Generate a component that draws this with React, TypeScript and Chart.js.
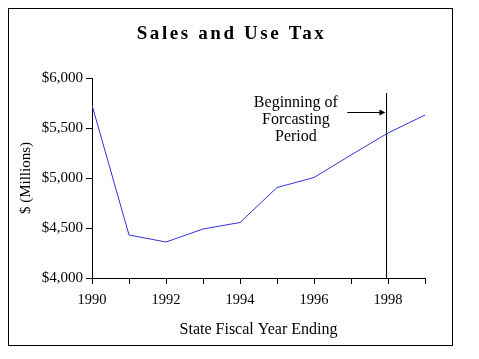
import React, { useEffect, useRef } from "react";
import { Chart, registerables } from "chart.js";

Chart.register(...registerables);

const years = [1990, 1991, 1992, 1993, 1994, 1995, 1996, 1997, 1998, 1999];
const salesTax = [5730, 4430, 4360, 4490, 4555, 4905, 5005, 5230, 5450, 5630];
const forecastStartX = [1997.96, 1997.96];
const forecastStartY = [5850, 4000];
const noteLines = ["Beginning of", "Forcasting", "Period"];
const titleText = "Sales and Use Tax";
const yTickValues = [4000, 4500, 5000, 5500, 6000];

const SERIF = "'Liberation Serif', 'Times New Roman', serif";

const decorPlugin = {
  id: "decor",
  afterDraw(chart: any) {
    const { ctx } = chart;
    const xs = chart.scales.x;
    const ys = chart.scales.y;
    ctx.save();
    // outer border
    ctx.strokeStyle = "#000";
    ctx.lineWidth = 1;
    ctx.strokeRect(0.5, 0.5, chart.width - 1, chart.height - 1);
    // title
    ctx.fillStyle = "#000";
    ctx.font = `bold 19px ${SERIF}`;
    (ctx as any).letterSpacing = "2.6px";
    ctx.textAlign = "center";
    ctx.textBaseline = "middle";
    ctx.fillText(titleText, chart.width / 2 + 1, 26);
    (ctx as any).letterSpacing = "0px";
    // annotation text
    ctx.font = `16px ${SERIF}`;
    const tx = xs.getPixelForValue(1995.51);
    const ty0 = ys.getPixelForValue(5750);
    noteLines.forEach((t, i) => ctx.fillText(t, tx, ty0 + i * 17));
    // arrow
    const ax0 = xs.getPixelForValue(1996.9);
    const ax1 = xs.getPixelForValue(1997.93);
    const ay = Math.round(ys.getPixelForValue(5660)) + 0.5;
    ctx.beginPath();
    ctx.moveTo(ax0, ay);
    ctx.lineTo(ax1 - 5, ay);
    ctx.stroke();
    ctx.beginPath();
    ctx.moveTo(ax1, ay);
    ctx.lineTo(ax1 - 6, ay - 3);
    ctx.lineTo(ax1 - 6, ay + 3);
    ctx.closePath();
    ctx.fill();
    ctx.restore();
  },
};

export default function App() {
  const ref = useRef<HTMLCanvasElement>(null);
  useEffect(() => {
    if (!ref.current) return;
    const chart = new Chart(ref.current, {
      type: "line",
      data: {
        datasets: [
          {
            data: years.map((x, i) => ({ x, y: salesTax[i] })),
            borderColor: "#3333dd",
            borderWidth: 1,
            pointRadius: 0,
            tension: 0,
          },
          {
            data: forecastStartX.map((x, i) => ({ x, y: forecastStartY[i] })),
            borderColor: "#000",
            borderWidth: 1,
            pointRadius: 0,
          },
        ],
      },
      options: {
        responsive: false,
        animation: false,
        events: [],
        layout: { padding: { top: 70, right: 28, left: 0, bottom: 0 } },
        plugins: { legend: { display: false }, tooltip: { enabled: false }, title: { display: false } },
        scales: {
          x: {
            type: "linear",
            min: 1990,
            max: 1999,
            afterFit: (s: any) => { s.height = 68; },
            afterBuildTicks: (s: any) => { s.ticks = years.map((v) => ({ value: v })); },
            grid: { drawOnChartArea: false, drawTicks: true, tickLength: 6, color: "#000" },
            border: { display: true, color: "#000", width: 1 },
            ticks: {
              autoSkip: false,
              maxRotation: 0,
              padding: 7,
              color: "#000",
              font: { family: SERIF, size: 14.5 },
              callback: (v: any) => (Number(v) % 2 === 0 ? String(v) : ""),
            },
            title: {
              display: true,
              text: "State Fiscal Year Ending",
              color: "#000",
              font: { family: SERIF, size: 16 },
              padding: { top: 0, bottom: 7 },
            },
          },
          y: {
            min: 4000,
            max: 6000,
            afterFit: (s: any) => { s.width = 84; },
            afterBuildTicks: (s: any) => { s.ticks = yTickValues.map((v) => ({ value: v })); },
            grid: { drawOnChartArea: false, drawTicks: true, tickLength: 6, color: "#000" },
            border: { display: true, color: "#000", width: 1 },
            ticks: {
              padding: 3,
              color: "#000",
              font: { family: SERIF, size: 15 },
              callback: (v: any) => "$" + Number(v).toLocaleString("en-US"),
            },
            title: {
              display: true,
              text: "$ (Millions)",
              color: "#000",
              font: { family: SERIF, size: 15 },
              padding: { top: 9, bottom: 0 },
            },
          },
        },
      },
      plugins: [decorPlugin],
    });
    return () => chart.destroy();
  }, []);
  return <canvas ref={ref} width={445} height={338} style={{ display: "block" }} />;
}
